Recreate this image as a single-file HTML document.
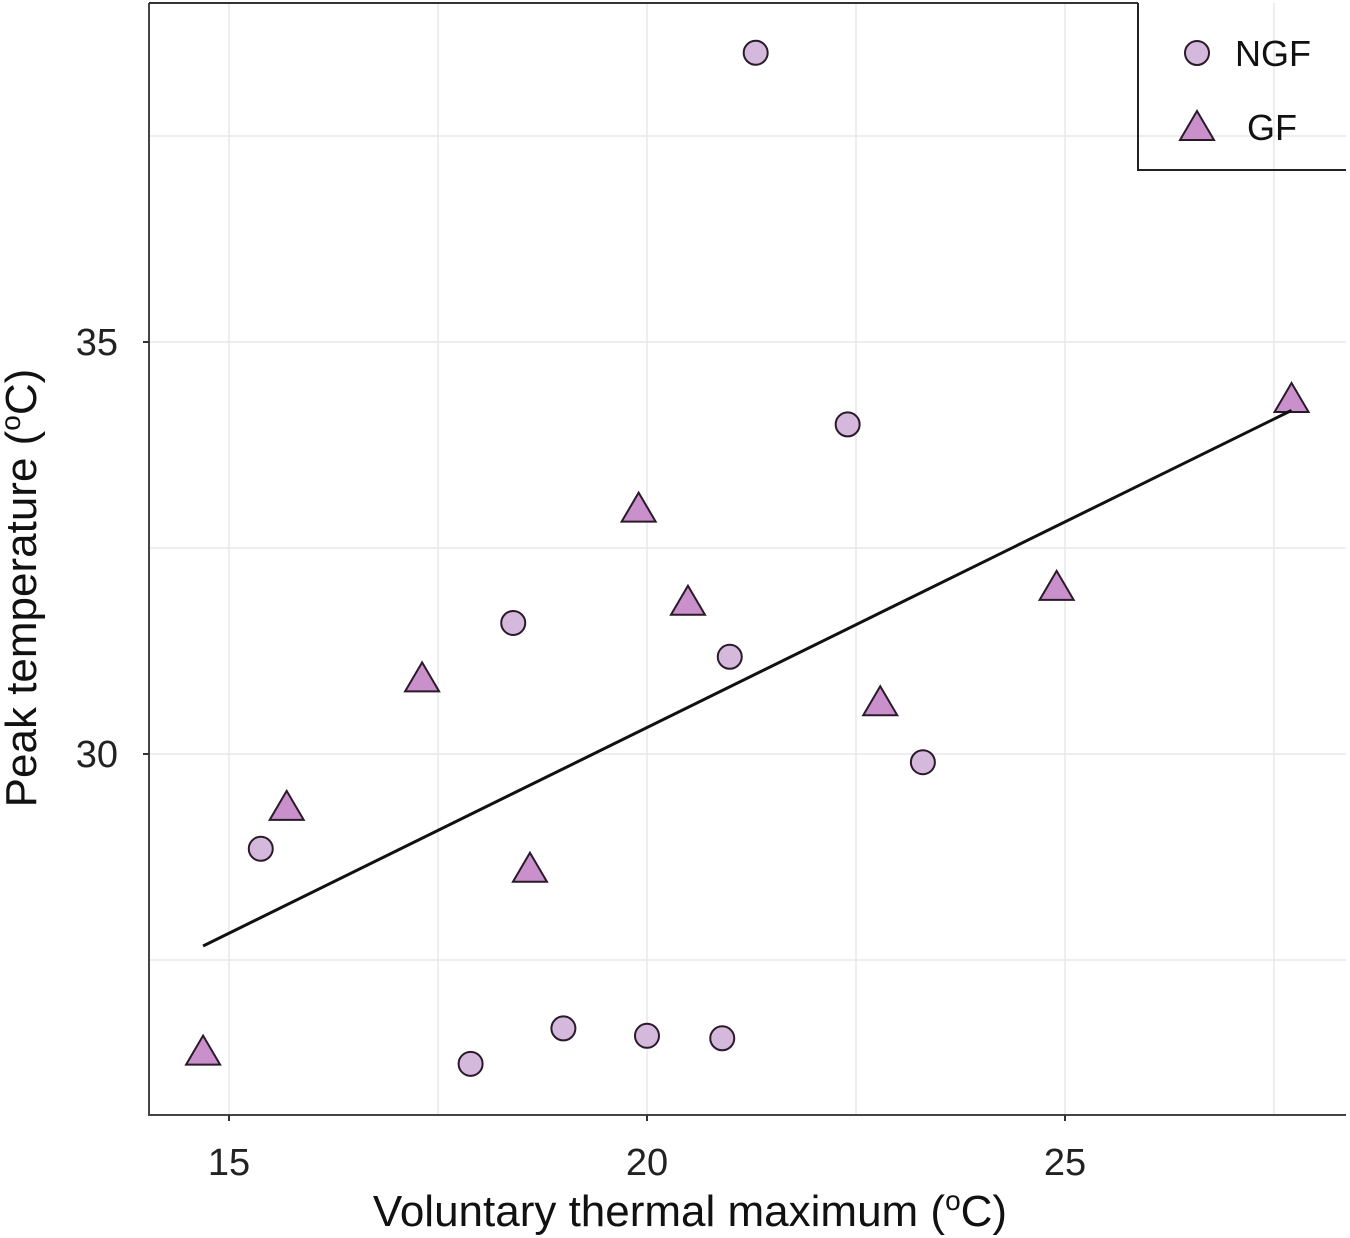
<!DOCTYPE html>
<html><head><meta charset="utf-8"><style>
html,body{margin:0;padding:0;background:#fff;}
svg{display:block;font-family:"Liberation Sans",Helvetica,Arial,sans-serif;}
</style></head><body>
<svg id="chart" width="1350" height="1238" viewBox="0 0 1350 1238" xmlns="http://www.w3.org/2000/svg">
<g id="grid"></g>
<g id="axes"></g>
<g id="marks"></g>
<text x="690" y="1226" font-size="44" text-anchor="middle" fill="#111">Voluntary thermal maximum (<tspan font-size="28" dy="-16">o</tspan><tspan dy="16">C)</tspan></text>
<text transform="translate(36,588) rotate(-90)" font-size="44" text-anchor="middle" fill="#111">Peak temperature (<tspan font-size="28" dy="-16">o</tspan><tspan dy="16">C)</tspan></text>
<g>
<polyline points="1138,3 1138,170 1346,170" fill="none" stroke="#222" stroke-width="2"/>
<g>
<circle cx="1197" cy="53" r="12" fill="#d5b9dd" stroke="#2a1a2a" stroke-width="2"/>
<text x="1235" y="66" font-size="36" fill="#111">NGF</text></g>
<g>
<polygon points="1197,111 1214,140 1180,140" fill="#c990cb" stroke="#2a1a2a" stroke-width="2"/>
<text x="1247" y="140" font-size="36" fill="#111">GF</text></g>
</g>
</svg>
<script>
const xTicks=[15,20,25];
const yTicks=[30,35];
const xMinor=[17.5,22.5,27.5];
const yMinor=[27.5,32.5,37.5];
const ngfX=[21.30,22.40,18.40,20.99,23.30,15.38,19.00,20.00,20.90,17.89];
const ngfY=[38.51,34.00,31.59,31.18,29.90,28.85,26.67,26.58,26.55,26.24];
const gfX=[27.71,19.90,20.49,24.90,17.31,22.79,15.69,18.60,14.69];
const gfY=[34.32,32.99,31.86,32.04,30.93,30.64,29.37,28.62,26.40];
const fitX=[14.69,27.71];
const fitY=[27.67,34.17];

const L=149,R=1346,T=3,B=1115;
const sx=v=>229+(v-15)*83.6;
const sy=v=>754-(v-30)*82.4;
const NS="http://www.w3.org/2000/svg";
function mk(tag,attrs,parent){const e=document.createElementNS(NS,tag);for(const k in attrs)e.setAttribute(k,attrs[k]);parent.appendChild(e);return e;}
const grid=document.getElementById('grid'),axes=document.getElementById('axes'),marks=document.getElementById('marks');
xTicks.concat(xMinor).forEach(v=>{const l=mk('line',{x1:sx(v),x2:sx(v),y1:T,y2:B,stroke:'#e8e8e8','stroke-width':1.5},grid);

});
yTicks.concat(yMinor).forEach(v=>{const l=mk('line',{x1:L,x2:R,y1:sy(v),y2:sy(v),stroke:'#e8e8e8','stroke-width':1.5},grid);

});
const frame=mk('polyline',{points:`${L},${T} ${L},${B} ${R},${B}`,fill:'none',stroke:'#444','stroke-width':2},axes);


const topBorder=mk('line',{x1:L,x2:1138,y1:T,y2:T,stroke:'#333','stroke-width':2},axes);


xTicks.forEach(v=>{mk('line',{x1:sx(v),x2:sx(v),y1:B,y2:B+6,stroke:'#333','stroke-width':2},axes);
const t=mk('text',{x:sx(v),y:1175,'font-size':38,'text-anchor':'middle',fill:'#222'},axes);t.textContent=v;

});
yTicks.forEach(v=>{mk('line',{x1:L-6,x2:L,y1:sy(v),y2:sy(v),stroke:'#333','stroke-width':2},axes);
const t=mk('text',{x:118,y:sy(v)+13,'font-size':38,'text-anchor':'end',fill:'#222'},axes);t.textContent=v;

});
ngfX.forEach((v,i)=>{const c=mk('circle',{cx:sx(v),cy:sy(ngfY[i]),r:12,fill:'#d5b9dd',stroke:'#2a1a2a','stroke-width':2},marks);

});
gfX.forEach((v,i)=>{const x=sx(v),y=sy(gfY[i]);
const p=mk('polygon',{points:`${x},${y-15} ${x+17},${y+14} ${x-17},${y+14}`,fill:'#c990cb',stroke:'#2a1a2a','stroke-width':2},marks);

});
const fit=mk('line',{x1:sx(fitX[0]),y1:sy(fitY[0]),x2:sx(fitX[1]),y2:sy(fitY[1]),stroke:'#111','stroke-width':3},marks);


</script>
</body></html>
